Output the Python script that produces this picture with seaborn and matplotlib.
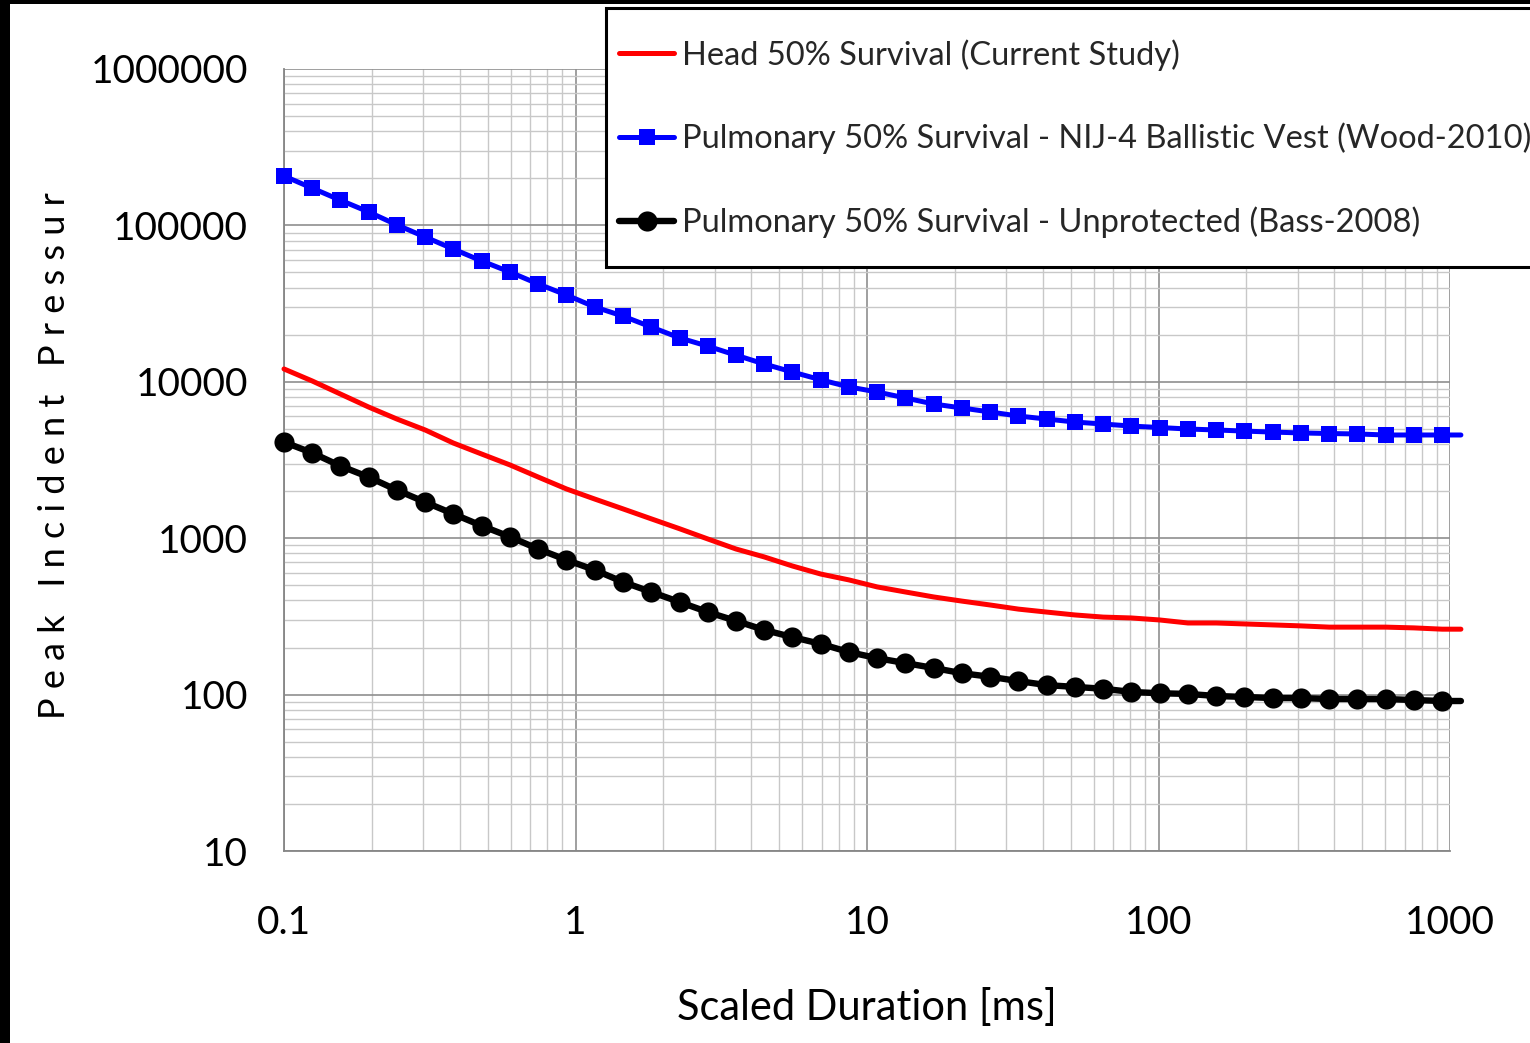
import numpy as np
import pandas as pd
import matplotlib
matplotlib.use("Agg")
import matplotlib.pyplot as plt
import seaborn as sns
from matplotlib.ticker import FixedLocator, LogLocator, NullFormatter
from matplotlib.patches import Rectangle

# ---------------- data ----------------
duration = [0.1, 0.125, 0.156, 0.195, 0.244, 0.305, 0.381, 0.477, 0.596, 0.745,
            0.931, 1.164, 1.455, 1.819, 2.274, 2.842, 3.553, 4.441, 5.551, 6.939,
            8.674, 10.84, 13.55, 16.94, 21.18, 26.47, 33.09, 41.36, 51.70, 64.62,
            80.78, 101.0, 126.2, 157.8, 197.2, 246.5, 308.1, 385.2, 481.5, 601.9,
            752.3, 940.4, 1090.0]

head = [12080, 10120, 8360, 6900, 5780, 4920, 4060, 3450, 2940, 2460,
        2065, 1780, 1540, 1330, 1150, 989, 853, 759, 664, 590,
        541, 488, 453, 421, 396, 374, 352, 337, 323, 313,
        309, 300, 287, 287, 283, 279, 275, 270, 270, 270,
        267, 262, 262]

vest = [207000, 173000, 145000, 122000, 100700, 84300, 70600, 59200, 50300, 42200,
        35900, 30100, 26300, 22400, 19100, 16900, 14800, 13000, 11550, 10300,
        9270, 8610, 7880, 7210, 6800, 6410, 6040, 5780, 5530, 5370,
        5210, 5100, 4990, 4920, 4840, 4770, 4710, 4670, 4640, 4570,
        4570, 4570, 4570]

unprot = [4120, 3510, 2900, 2460, 2030, 1700, 1430, 1200, 1020, 853,
          726, 626, 525, 453, 391, 337, 296, 259, 233, 211,
          187, 171, 159, 148, 137, 130, 122, 115, 112, 109,
          104, 102, 101, 98, 96.6, 95, 95, 93.7, 93.7, 93.7,
          92.3, 91, 91]

labels = ["Head 50% Survival (Current Study)",
          "Pulmonary 50% Survival - NIJ-4 Ballistic Vest (Wood-2010)",
          "Pulmonary 50% Survival - Unprotected (Bass-2008)"]

x_ticks = [0.1, 1, 10, 100, 1000]
x_ticklabels = ["0.1", "1", "10", "100", "1000"]
y_ticks = [10, 100, 1000, 10000, 100000, 1000000]
y_ticklabels = ["10", "100", "1000", "10000", "100000", "1000000"]

# ---------------- style ----------------
sns.set_theme(style="white")
plt.rcParams["font.family"] = ["Lato", "DejaVu Sans"]

W, H = 1530, 1043
fig = plt.figure(figsize=(W / 100, H / 100), dpi=100)
fig.patch.set_facecolor("white")

L, R, T, B = 284, 1450, 69, 851
ax = fig.add_axes([L / W, 1 - B / H, (R - L) / W, (B - T) / H])
ax.set_facecolor("white")

df = pd.DataFrame({"duration": duration, "head": head, "vest": vest, "unprot": unprot})
mk = list(range(len(duration) - 1))

sns.lineplot(data=df, x="duration", y="head", ax=ax, color="#ff0000", lw=3.6,
             sort=False, estimator=None, label=labels[0], clip_on=False, zorder=4)
sns.lineplot(data=df, x="duration", y="vest", ax=ax, color="#0000ff", lw=3.6,
             marker="s", markersize=12, markeredgecolor="#0000ff", markeredgewidth=0,
             markevery=mk, sort=False, estimator=None, label=labels[1], clip_on=False, zorder=5)
sns.lineplot(data=df, x="duration", y="unprot", ax=ax, color="#000000", lw=4.6,
             marker="o", markersize=14.5, markeredgecolor="#000000", markeredgewidth=0,
             markevery=mk, sort=False, estimator=None, label=labels[2], clip_on=False, zorder=5)

handles, labs = ax.get_legend_handles_labels()
if ax.get_legend() is not None:
    ax.get_legend().remove()

ax.set_xscale("log")
ax.set_yscale("log")
ax.set_xlim(0.1, 1000)
ax.set_ylim(10, 1000000)

ax.xaxis.set_major_locator(FixedLocator(x_ticks))
ax.xaxis.set_ticklabels(x_ticklabels)
ax.yaxis.set_major_locator(FixedLocator(y_ticks))
ax.yaxis.set_ticklabels(y_ticklabels)
ax.xaxis.set_minor_locator(LogLocator(base=10, subs=np.arange(2, 10)))
ax.yaxis.set_minor_locator(LogLocator(base=10, subs=np.arange(2, 10)))
ax.xaxis.set_minor_formatter(NullFormatter())
ax.yaxis.set_minor_formatter(NullFormatter())

ax.grid(which="major", color="#8f8f8f", lw=1.2)
ax.grid(which="minor", color="#c8c8c8", lw=1.0)
ax.set_axisbelow(True)

for s in ["top", "right"]:
    ax.spines[s].set_visible(False)
for s in ["left", "bottom"]:
    ax.spines[s].set_color("#868686")
    ax.spines[s].set_linewidth(1.3)

ax.tick_params(axis="both", which="major", length=10, width=1.3, color="#868686",
               labelsize=28, labelcolor="black")
ax.tick_params(axis="y", which="major", pad=16)
ax.tick_params(axis="x", which="major", pad=29)
ax.tick_params(which="minor", length=0)

ax.set_xlabel("Scaled Duration [ms]", fontsize=30, color="black")
ax.xaxis.label.set_va("center")
ax.xaxis.set_label_coords(0.5, (B - 1007) / (B - T))

ax.set_ylabel("P e a k   I n c i d e n t   P r e s s u r", fontsize=26, color="black")
ax.yaxis.label.set_va("center")
ax.yaxis.set_label_coords((55 - L) / (R - L), (B - 456) / (B - T))

# black frame bands of the original screenshot
fig.patches.append(Rectangle((0, 0), 10 / W, 1, transform=fig.transFigure,
                             facecolor="black", edgecolor="none", zorder=10))
fig.patches.append(Rectangle((0, 1 - 4 / H), 1, 4 / H, transform=fig.transFigure,
                             facecolor="black", edgecolor="none", zorder=10))

# legend box
fig.patches.append(Rectangle((606 / W, 1 - 267 / H), 940 / W, 259 / H,
                             transform=fig.transFigure, facecolor="white",
                             edgecolor="black", lw=2.2, zorder=3))
fig.legend(handles, labs, loc="upper left", bbox_to_anchor=(619 / W, 1 - 39 / H),
           frameon=False, fontsize=23.5, borderpad=0, borderaxespad=0,
           handlelength=1.7, handletextpad=0.22, labelspacing=1.6)

fig.savefig("out.png", dpi=100, facecolor="white")
